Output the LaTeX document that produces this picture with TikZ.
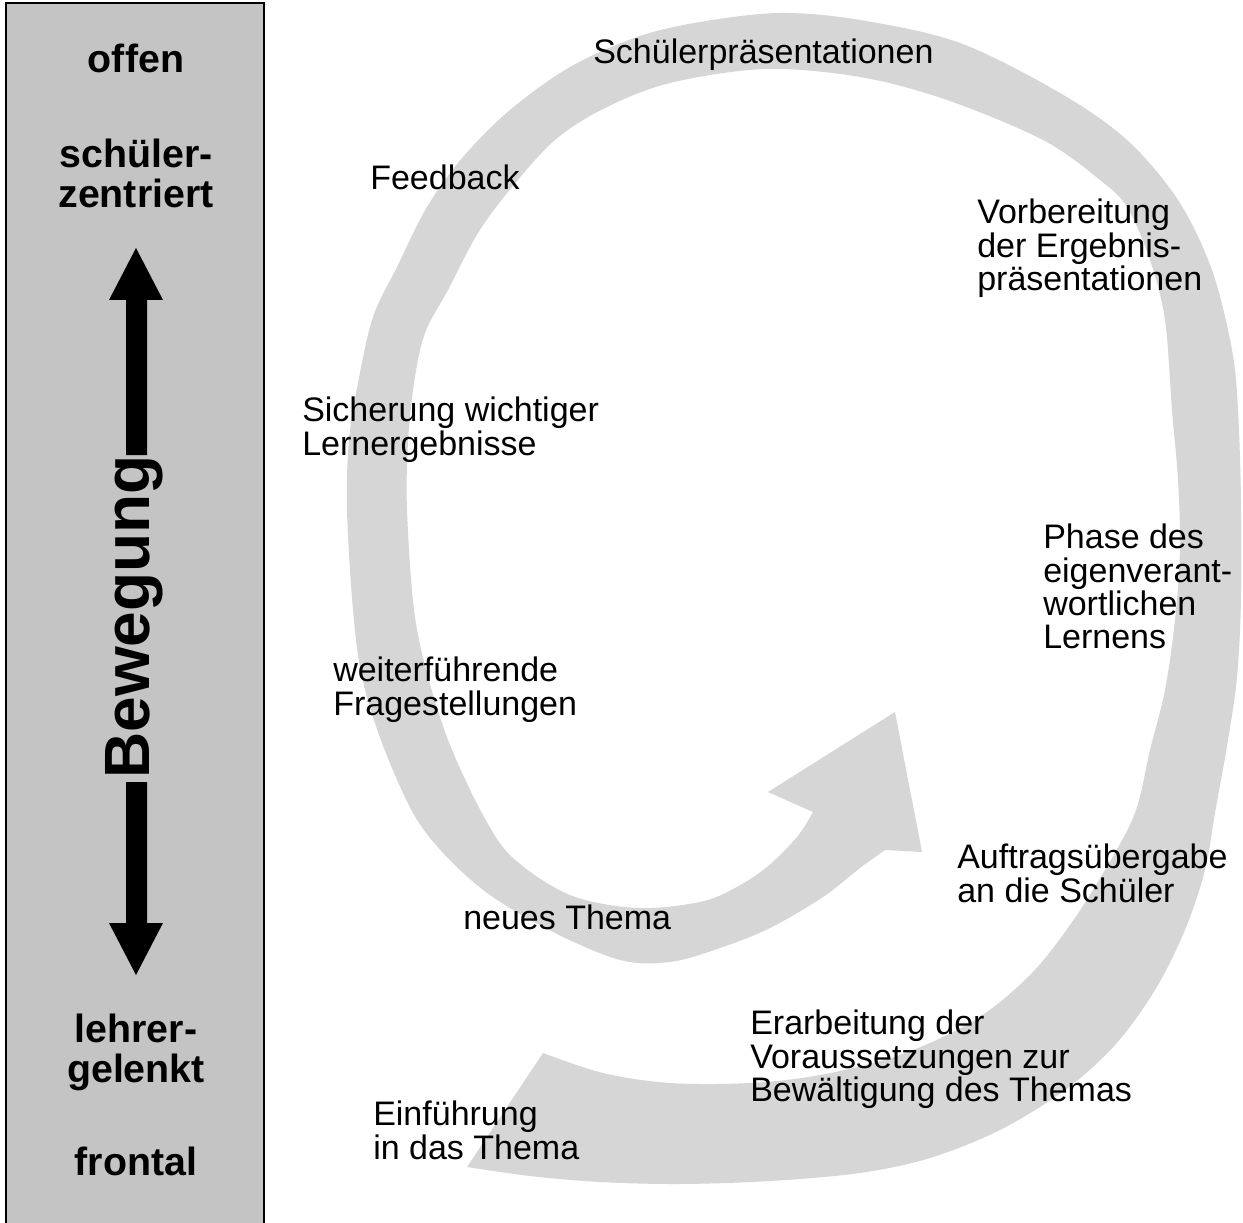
\documentclass[tikz,border=0pt]{standalone}
\usepackage{fontspec}
\setmainfont{Liberation Sans}
\newcommand\tightlines{\lineskiplimit=-100pt\relax}
\begin{document}
\begin{tikzpicture}[x=0.75pt,y=-0.75pt,
  lbl/.style={font=\fontsize{25.5}{25}\selectfont\tightlines, inner sep=0pt, anchor=north west, align=left},
  side/.style={font=\bfseries\fontsize{29.5}{30}\selectfont\tightlines, inner sep=0pt, align=center},
  panelfill/.style={fill=black!23},
  bandfill/.style={fill=black!16},
  dblarrow/.style={fill=black}]
\useasboundingbox (0,0) rectangle (1243,1223);
\fill[white] (0,0) rectangle (1243,1223);
% left panel
\draw[panelfill, draw=black, line width=1.2pt] (6,3) rectangle (264,1240);
\draw[line width=2pt] (264,3) -- (264,1240);
\fill[dblarrow] (136,248) -- (163,300) -- (147,300) -- (147,455) -- (126,455) -- (126,300) -- (109,300) -- cycle;
\fill[dblarrow] (136,975) -- (163,923) -- (147,923) -- (147,782) -- (126,782) -- (126,923) -- (109,923) -- cycle;
\node[rotate=90, font=\bfseries\fontsize{48}{48}\selectfont, inner sep=0pt] (bew) at (134,617) {Bewegung};
\node[side, anchor=base] (offen) at (136,73) {offen};
\node[side, anchor=north] (schueler) at (136,138.5) {schüler-\\zentriert};
\node[side, anchor=north] (lehrer) at (136,1013.5) {lehrer-\\gelenkt};
\node[side, anchor=base] (frontal) at (136,1175) {frontal};
% spiral band
\fill[bandfill] plot[smooth, tension=0.55] coordinates {(467,1167) (530,1176) (600,1182) (680,1184) (770,1181) (860,1173) (930,1158) (1000,1130) (1065,1090) (1115,1045) (1155,990) (1185,930) (1205,870) (1215,813) (1228,740) (1237,677) (1241,600) (1241,500) (1238,410) (1232,350) (1212,270) (1178,200) (1127,140) (1060,93) (960,43) (860,20) (780,13) (700,22) (637,37) (570,67) (510,110) (463,157) (427,207) (397,267) (373,317) (358,383) (349,440) (347,510) (353,610) (362,677) (382,743) (413,813) (445,855) (490,895) (553,932) (620,960) (670,962) (720,948) (770,928) (823,897) (860,868) (885,850)}
  -- (922,852) -- (895,712) -- (768,792) --
  plot[smooth, tension=0.55] coordinates {(813,812) (797,837) (767,867) (735,888) (700,902) (637,908) (570,895) (513,858) (483,815) (450,745) (428,677) (414,610) (407,510) (408,443) (414,383) (425,333) (448,290) (478,233) (512,187) (555,140) (605,108) (670,83) (765,69) (860,77) (947,100) (1043,140) (1100,180) (1127,207) (1150,260) (1165,320) (1172,410) (1178,480) (1180,550) (1175,620) (1165,690) (1150,750) (1135,813) (1105,870) (1070,925) (1030,975) (975,1020) (900,1055) (820,1075) (750,1083) (670,1083) (603,1073) (543,1053)}
  -- cycle;
% labels
\node[lbl] (sp) at (593,39) {Schülerpräsentationen};
\node[lbl] (fb) at (370,165) {Feedback};
\node[lbl] (vb) at (977,199) {Vorbereitung\\der Ergebnis-\\präsentationen};
\node[lbl] (si) at (302,397) {Sicherung wichtiger\\Lernergebnisse};
\node[lbl] (ph) at (1043,524) {Phase des\\eigenverant-\\wortlichen\\Lernens};
\node[lbl] (wf) at (333,657) {weiterführende\\Fragestellungen};
\node[lbl] (af) at (957,844) {Auftragsübergabe\\an die Schüler};
\node[lbl] (nt) at (463,905) {neues Thema};
\node[lbl] (er) at (750,1010) {Erarbeitung der\\Voraussetzungen zur\\Bewältigung des Themas};
\node[lbl] (ei) at (373,1101) {Einführung\\in das Thema};
\end{tikzpicture}
\end{document}
